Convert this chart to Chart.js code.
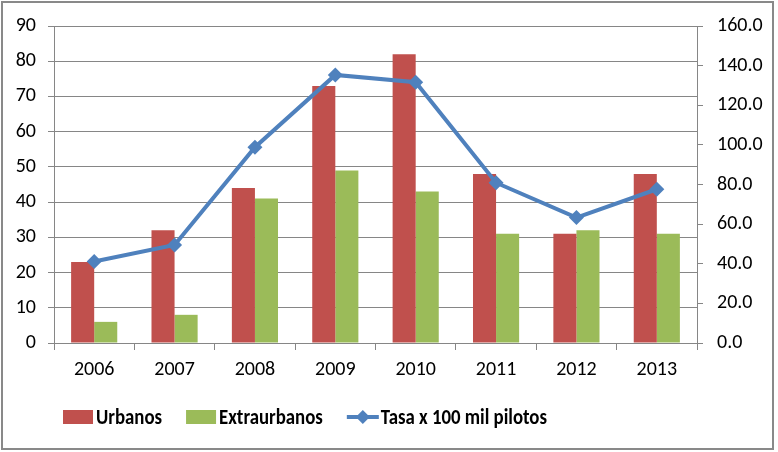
<!DOCTYPE html>
<html>
<head>
<meta charset="utf-8">
<script src="https://cdn.jsdelivr.net/npm/chart.js@4.4.1/dist/chart.umd.min.js"></script>
<style>
html,body{margin:0;padding:0;background:#fff;}
#wrap{position:relative;width:778px;height:452px;}
</style>
</head>
<body>
<div id="wrap"><canvas id="c" width="778" height="452"></canvas></div>
<script>
const years = ['2006','2007','2008','2009','2010','2011','2012','2013'];
const urbanos = [23, 32, 44, 73, 82, 48, 31, 48];
const extraurbanos = [6, 8, 41, 49, 43, 31, 32, 31];
const tasa = [41.1, 49.5, 98.8, 135.3, 131.6, 80.9, 63.3, 77.6];
const seriesNames = ['Urbanos', 'Extraurbanos', 'Tasa x 100 mil pilotos'];

const RED = '#C0504D', GREEN = '#9BBB59', BLUE = '#4F81BD', GRID = '#868686';
const TICKFONT = {family: "Carlito, 'Liberation Sans', Arial, sans-serif", size: 20};

const frame = {
  id: 'frame',
  afterDraw(chart) {
    const ctx = chart.ctx;
    ctx.save();
    ctx.strokeStyle = '#898989';
    ctx.lineWidth = 2;
    ctx.strokeRect(2, 2, 771, 447);
    ctx.restore();
  }
};

const legendOrder = [1, 2, 0];
const customLegend = {
  id: 'customLegend',
  afterDraw(chart) {
    const ctx = chart.ctx;
    ctx.save();
    ctx.font = "bold 22px Carlito, 'Liberation Sans', sans-serif";
    ctx.textBaseline = 'middle';
    const sx = 0.855;
    const cy = 417;
    let x = 63;
    legendOrder.forEach(i => {
      const ds = chart.data.datasets[i];
      if (ds.type === 'line') {
        ctx.strokeStyle = ds.borderColor;
        ctx.lineWidth = 4;
        ctx.beginPath(); ctx.moveTo(x, cy); ctx.lineTo(x + 32, cy); ctx.stroke();
        ctx.fillStyle = ds.borderColor;
        ctx.beginPath();
        const mx = x + 16, r = 7;
        ctx.moveTo(mx, cy - r); ctx.lineTo(mx + r, cy); ctx.lineTo(mx, cy + r); ctx.lineTo(mx - r, cy); ctx.closePath();
        ctx.fill();
        x += 34;
      } else {
        ctx.fillStyle = ds.backgroundColor;
        ctx.fillRect(x, cy - 7, 30, 14);
        x += 33;
      }
      ctx.fillStyle = '#000';
      ctx.save();
      ctx.translate(x, cy + 1);
      ctx.scale(sx, 1);
      ctx.fillText(ds.label, 0, 0);
      ctx.restore();
      x += ctx.measureText(ds.label).width * sx + 24;
    });
    ctx.restore();
  }
};

new Chart(document.getElementById('c'), {
  data: {
    labels: years,
    datasets: [
      {type: 'line', label: seriesNames[2], data: tasa, yAxisID: 'y1', borderColor: BLUE, backgroundColor: BLUE,
       borderWidth: 4, pointStyle: 'rectRot', pointRadius: 7.5, pointHoverRadius: 7.5, pointBackgroundColor: BLUE,
       pointBorderWidth: 0, tension: 0, order: 0},
      {type: 'bar', label: seriesNames[0], data: urbanos, yAxisID: 'y', backgroundColor: RED,
       categoryPercentage: 0.574, barPercentage: 1.0, order: 1},
      {type: 'bar', label: seriesNames[1], data: extraurbanos, yAxisID: 'y', backgroundColor: GREEN,
       categoryPercentage: 0.574, barPercentage: 1.0, order: 1}
    ]
  },
  options: {
    responsive: false,
    animation: false,
    events: [],
    layout: {padding: {top: 24, left: 0, right: 0, bottom: 0}},
    plugins: {legend: {display: false}, tooltip: {enabled: false}},
    scales: {
      x: {
        grid: {offset: true, drawOnChartArea: false, color: GRID, tickLength: 7},
        border: {color: GRID, width: 1},
        ticks: {font: TICKFONT, color: '#000', padding: 8},
        afterFit(s) { s.height = 109; }
      },
      y: {
        position: 'left', min: 0, max: 90,
        ticks: {stepSize: 10, font: TICKFONT, color: '#000', padding: 12},
        grid: {color: GRID, tickLength: 6},
        border: {color: GRID, width: 1},
        afterFit(s) { s.width = 54; }
      },
      y1: {
        position: 'right', min: 0, max: 160,
        ticks: {stepSize: 20, font: TICKFONT, color: '#000', padding: 14, callback: v => v.toFixed(1)},
        grid: {drawOnChartArea: false, color: GRID, tickLength: 6},
        border: {color: GRID, width: 1},
        afterFit(s) { s.width = 81; }
      }
    }
  },
  plugins: [frame, customLegend]
});
</script>
</body>
</html>
